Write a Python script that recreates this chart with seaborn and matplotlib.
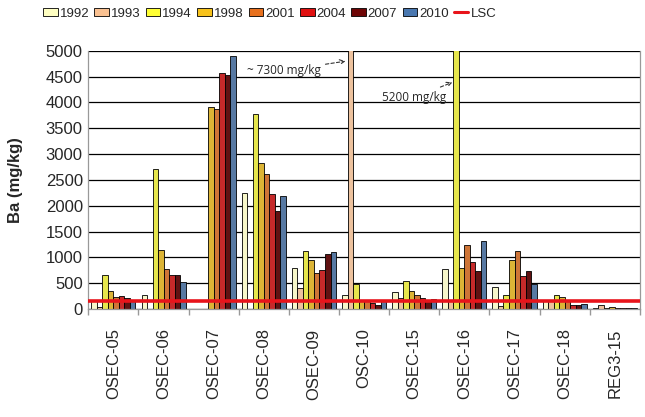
"""
Ba concentrations per station and survey year, with the LSC reference line.
"""

import matplotlib.pyplot as plt
import numpy as np
import pandas as pd
import seaborn as sns
from matplotlib.lines import Line2D
from matplotlib.patches import Patch

# ==========================================
# DATA
# ==========================================
STATIONS = ["OSEC-05", "OSEC-06", "OSEC-07", "OSEC-08", "OSEC-09", "OSC-10",
            "OSEC-15", "OSEC-16", "OSEC-17", "OSEC-18", "REG3-15"]
YEARS = ["1992", "1993", "1994", "1998", "2001", "2004", "2007", "2010"]

BA_1992 = [150, 280, 0, 2250, 795, 270, 330, 775, 435, 165, 20]
BA_1993 = [35, 0, 0, 0, 405, 7300, 215, 180, 50, 150, 80]
BA_1994 = [660, 2720, 0, 3785, 1130, 480, 550, 5200, 265, 280, 25]
BA_1998 = [355, 1150, 3920, 2830, 955, 175, 350, 795, 955, 230, 30]
BA_2001 = [225, 780, 3880, 2620, 700, 150, 275, 1245, 1130, 150, 25]
BA_2004 = [255, 665, 4570, 2220, 750, 115, 215, 905, 645, 85, 25]
BA_2007 = [205, 665, 4540, 1905, 1065, 85, 180, 730, 745, 85, 20]
BA_2010 = [150, 530, 4905, 2195, 1100, 150, 200, 1310, 490, 100, 20]

LSC = 150

COLORS = ["#FFFFC2", "#FAC191", "#FFFF33", "#F7C21B", "#E7701E",
          "#E01010", "#6E0505", "#4A78B0"]


def main():
    series = [BA_1992, BA_1993, BA_1994, BA_1998, BA_2001, BA_2004, BA_2007, BA_2010]
    df = pd.DataFrame({
        "Station": np.tile(STATIONS, len(YEARS)),
        "Year": np.repeat(YEARS, len(STATIONS)),
        "Ba": np.concatenate(series),
    })

    sns.set_theme(style="white")
    plt.rcParams["font.family"] = ["Liberation Sans", "DejaVu Sans"]

    fig = plt.figure(figsize=(6.45, 4.17), dpi=100)
    ax = fig.add_axes([0.137, 0.259, 0.855, 0.619])

    sns.barplot(
        data=df, x="Station", y="Ba", hue="Year", hue_order=YEARS,
        palette=COLORS, width=0.88, edgecolor="black", linewidth=0.6,
        ax=ax, legend=False,
    )

    ax.axhline(LSC, color="#E8141B", linewidth=2.6, zorder=5)

    ax.set_ylim(0, 5000)
    ax.set_xlim(-0.5, len(STATIONS) - 0.5)
    ax.set_yticks(np.arange(0, 5001, 500))
    ax.yaxis.grid(True, color="black", linewidth=0.9)
    ax.set_axisbelow(True)
    ax.tick_params(axis="y", labelsize=12, length=0, pad=4)
    ax.tick_params(axis="x", labelsize=12, length=0, pad=14)
    ax.set_xticks(range(len(STATIONS)))
    ax.set_xticklabels(STATIONS, rotation=90)
    ax.set_xticks(np.arange(-0.5, len(STATIONS)), minor=True)
    ax.tick_params(axis="x", which="minor", length=4, color="#999999", bottom=True)
    ax.set_xlabel("")
    ax.set_ylabel("Ba (mg/kg)", fontsize=12, fontweight="bold", labelpad=16)

    for side in ["left", "right", "bottom"]:
        ax.spines[side].set_color("#999999")
        ax.spines[side].set_linewidth(0.9)
    ax.spines["top"].set_visible(False)

    # Off-scale annotations
    note_font = ["Open Sans", "DejaVu Sans"]
    arrow = dict(arrowstyle="->", linestyle=(0, (3, 2)), color="#333333", lw=0.8,
                 shrinkA=1, shrinkB=0)
    ax.annotate("~ 7300 mg/kg", xy=(4.63, 4800), xytext=(3.4, 4620),
                fontsize=8.5, family=note_font, ha="center", va="center",
                arrowprops=arrow)
    ax.annotate("5200 mg/kg", xy=(6.76, 4390), xytext=(6.0, 4100),
                fontsize=8.5, family=note_font, ha="center", va="center",
                arrowprops=arrow)

    handles = [Patch(facecolor=c, edgecolor="black", linewidth=0.6, label=y)
               for c, y in zip(COLORS, YEARS)]
    handles.append(Line2D([0], [0], color="#E8141B", linewidth=2.2, label="LSC"))
    fig.legend(handles=handles, loc="upper center", bbox_to_anchor=(0.418, 1.01),
               ncol=9, frameon=False, fontsize=9.5, handlelength=1.1,
               handleheight=0.6, handletextpad=0.15, columnspacing=0.4)

    fig.savefig("out.png", dpi=100)
    plt.close(fig)


if __name__ == "__main__":
    main()
